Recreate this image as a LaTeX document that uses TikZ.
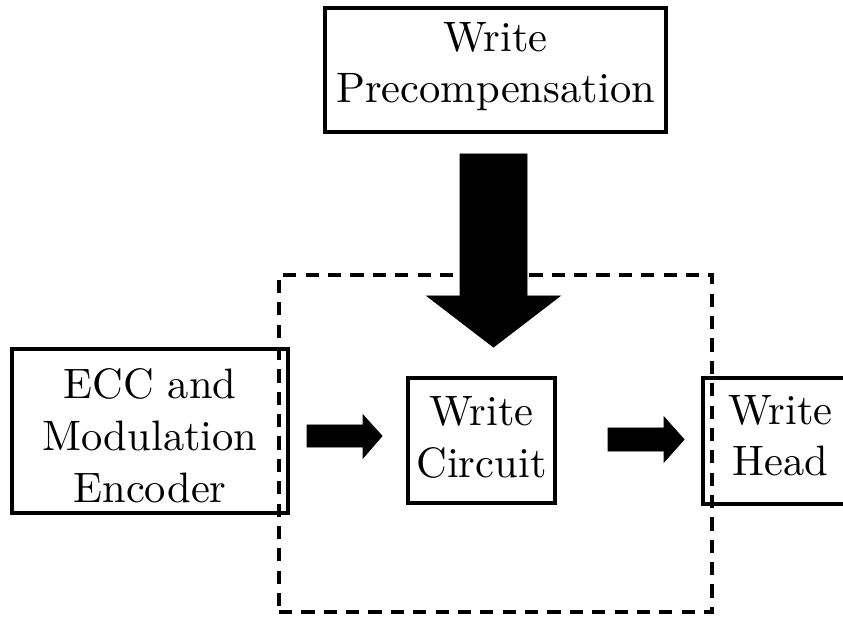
\documentclass[tikz,border=0pt]{standalone}
\begin{document}
\begin{tikzpicture}[x=0.228pt,y=-0.228pt,
  box/.style={draw, line width=0.72pt, inner sep=0pt},
  txt/.style={inner sep=0pt, align=center, font=\fontsize{9.7pt}{11.8pt}\selectfont},
  dashbox/.style={draw, line width=0.72pt, dash pattern=on 3pt off 2.1pt, inner sep=0pt},
  fatarrow/.style={fill=black, draw=black, line width=0.2pt}]
\useasboundingbox (0,0) rectangle (843,619);
\clip (0,0) rectangle (843,619);
% boxes
\node[box, minimum width=341*0.228pt, minimum height=124*0.228pt] (wp) at (495.5,70) {};
\node[txt] (wptext) at ([yshift=0.8pt]wp.center) {Write\\Precompensation};
\node[box, minimum width=276*0.228pt, minimum height=164*0.228pt] (ecc) at (150,431) {};
\node[txt] (ecctext) at ([yshift=-1.1pt]ecc.center) {ECC and\\Modulation\\Encoder};
\node[box, minimum width=147*0.228pt, minimum height=125*0.228pt] (wc) at (481.5,440.5) {};
\node[txt] (wctext) at ([yshift=0.7pt]wc.center) {Write\\Circuit};
\node[box, minimum width=155*0.228pt, minimum height=126*0.228pt] (wh) at (780.5,441) {};
\node[txt] (whtext) at ([yshift=1.2pt]wh.center) {Write\\Head};
% dashed enclosure
\node[dashbox, minimum width=433*0.228pt, minimum height=337*0.228pt] (enc) at (495.5,443.5) {};
% big arrow
\fill[fatarrow] (460,154) -- (527,154) -- (527,296) -- (560,296) -- (493.5,347) -- (427,296) -- (460,296) -- cycle;
% arrow 1
\fill[fatarrow] (307,425) -- (363,425) -- (363,415) -- (382,436) -- (363,458) -- (363,447) -- (307,447) -- cycle;
% arrow 2
\fill[fatarrow] (608,428) -- (664,428) -- (664,417) -- (684,439.5) -- (664,462) -- (664,451) -- (608,451) -- cycle;
\end{tikzpicture}
\end{document}
